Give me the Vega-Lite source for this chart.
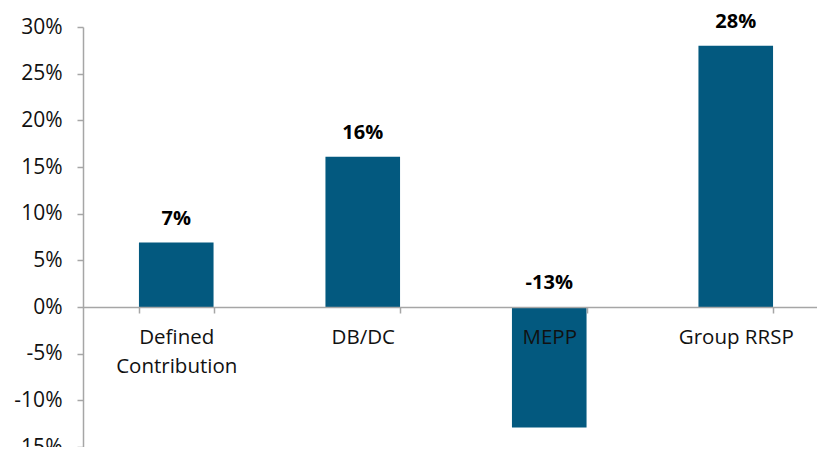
{
  "$schema": "https://vega.github.io/schema/vega-lite/v6.json",
  "autosize": "none",
  "padding": {"left": 83, "top": 27, "right": 0, "bottom": 0},
  "width": 746,
  "height": 420,
  "background": "white",
  "config": {"view": {"stroke": null}, "font": "Open Sans"},
  "data": {
    "values": [
      {"plan": "Defined Contribution", "value": 6.9, "label": "7%"},
      {"plan": "DB/DC", "value": 16.1, "label": "16%"},
      {"plan": "MEPP", "value": -12.9, "label": "-13%"},
      {"plan": "Group RRSP", "value": 28.0, "label": "28%"}
    ]
  },
  "encoding": {
    "x": {
      "field": "plan",
      "type": "nominal",
      "sort": null,
      "scale": {"paddingInner": 0.6, "paddingOuter": 0.3},
      "axis": {
        "title": null,
        "orient": "bottom",
        "offset": -140,
        "zindex": 1,
        "labelAngle": 0,
        "labelFont": "Open Sans",
        "labelFontSize": 20.5,
        "labelColor": "#111111",
        "labelPadding": 14,
        "labelLineHeight": 29,
        "labelExpr": "datum.label == 'Defined Contribution' ? ['Defined', 'Contribution'] : datum.label",
        "domainColor": "#a6a6a6",
        "domainWidth": 1.5,
        "tickColor": "#a6a6a6",
        "tickWidth": 1.5,
        "tickSize": 6,
        "tickBand": "extent",
        "grid": false
      }
    }
  },
  "layer": [
    {
      "mark": {"type": "bar", "color": "#03597f"},
      "encoding": {
        "y": {
          "field": "value",
          "type": "quantitative",
          "scale": {"domain": [-15, 30], "nice": false, "zero": true},
          "axis": {
            "title": null,
            "values": [-15, -10, -5, 0, 5, 10, 15, 20, 25, 30],
            "labelExpr": "datum.value + '%'",
            "labelFont": "Open Sans",
            "labelFontSize": 21,
            "labelColor": "#111111",
            "labelPadding": 15,
            "domainColor": "#a6a6a6",
            "domainWidth": 1.5,
            "tickColor": "#a6a6a6",
            "tickWidth": 1.5,
            "tickSize": 6,
            "grid": false
          }
        }
      }
    },
    {
      "transform": [{"calculate": "max(datum.value, 0)", "as": "anchor"}],
      "mark": {"type": "text", "font": "Open Sans", "fontSize": 20, "fontWeight": "bold", "color": "#000000", "baseline": "middle", "dy": -24},
      "encoding": {
        "y": {"field": "anchor", "type": "quantitative"},
        "text": {"field": "label"}
      }
    }
  ]
}
